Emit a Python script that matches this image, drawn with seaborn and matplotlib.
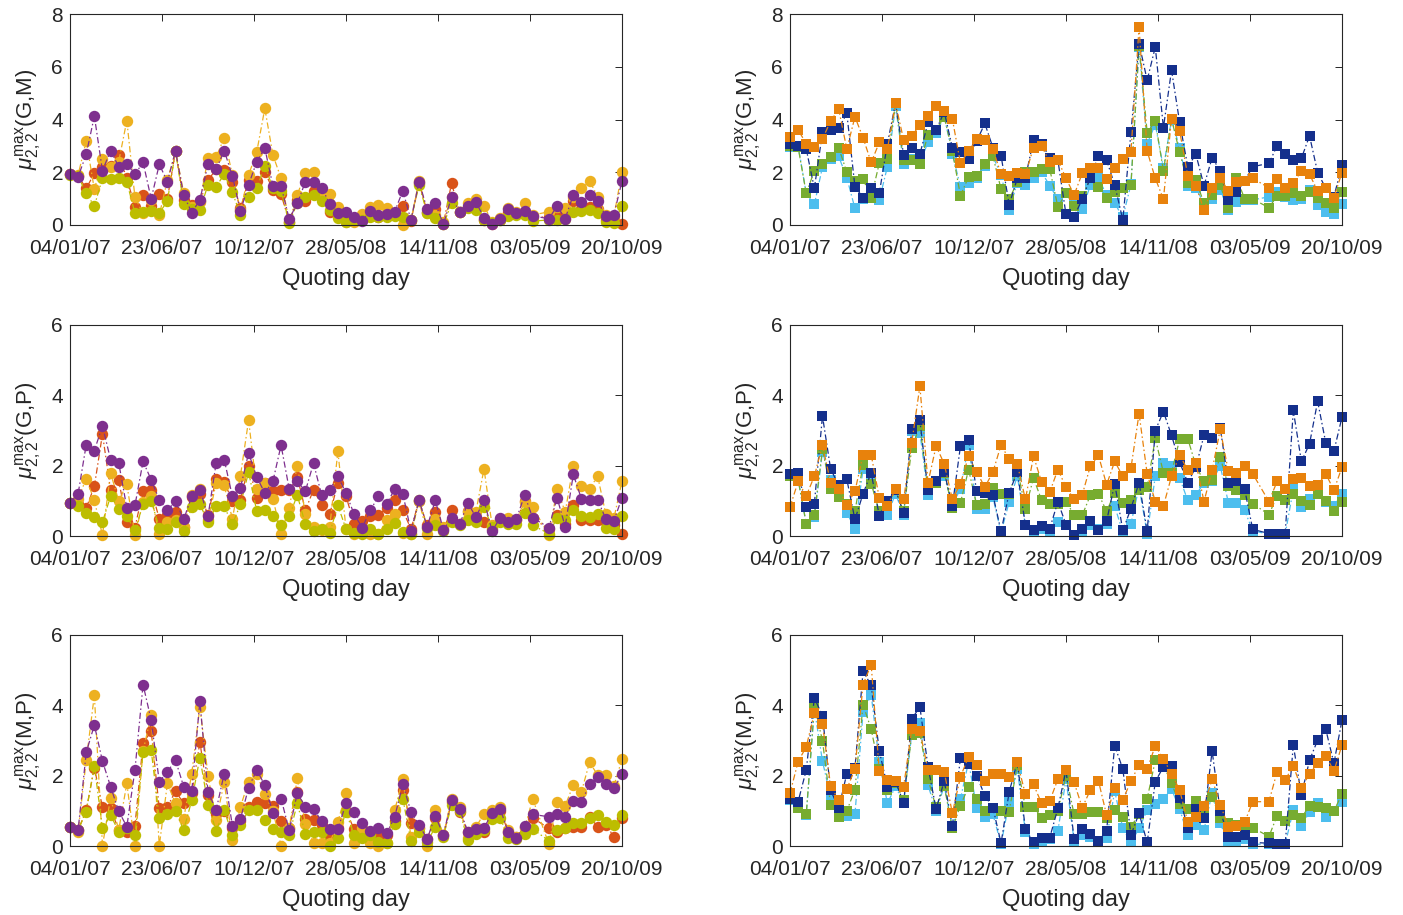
import numpy as np
import pandas as pd
import matplotlib
matplotlib.use("Agg")
import matplotlib.pyplot as plt
import matplotlib.dates as mdates
import seaborn as sns

# ---------------- data ----------------
dates = list(pd.date_range("2007-01-04", periods=58, freq="15D")) + \
        list(pd.date_range(end="2009-10-20", periods=10, freq="15D"))

tick_dates = ["2007-01-04", "2007-06-23", "2007-12-10", "2008-05-28",
              "2008-11-14", "2009-05-03", "2009-10-20"]

left_series = ["S1", "S2", "S3", "S4"]      # red, yellow, olive, purple
right_series = ["T1", "T2", "T3", "T4"]     # light blue, green, dark blue, orange

# Left column, (G,M)
gm_red = [1.93,1.85,1.39,1.96,2.20,2.24,2.65,1.77,0.70,1.14,
          0.72,1.16,1.00,2.80,0.95,0.76,0.90,1.70,2.11,2.09,
          1.64,0.63,1.70,1.68,2.02,1.33,1.16,0.13,0.95,0.91,
          1.30,1.14,0.51,0.40,0.30,0.20,0.30,0.50,0.30,0.40,
          0.45,0.73,0.15,1.60,0.50,0.60,0.05,1.58,0.50,0.70,
          0.80,0.20,0.05,0.20,0.50,0.45,0.50,0.30,0.30,0.50,
          0.30,0.90,0.60,0.70,0.60,0.20,0.20,0.04]
gm_yel = [1.93,1.90,3.19,1.35,2.49,2.20,2.40,3.96,1.05,0.44,
          0.95,0.38,1.70,2.80,1.23,0.70,0.88,2.53,2.57,3.31,
          1.90,0.55,1.90,2.76,4.42,2.65,1.77,0.10,1.15,1.97,
          2.02,1.20,1.16,0.68,0.10,0.13,0.42,0.69,0.76,0.63,
          0.38,0.00,0.19,1.68,0.44,0.38,0.13,1.07,0.50,0.85,
          1.00,0.72,0.13,0.25,0.63,0.50,0.85,0.38,0.50,0.69,
          0.63,1.07,1.41,1.68,1.07,0.38,0.32,2.02]
gm_grn = [1.90,1.85,1.20,0.72,1.77,1.74,1.77,1.64,0.44,0.50,
          0.54,0.45,0.91,2.80,0.80,0.60,0.57,1.52,1.45,1.93,
          1.24,0.38,1.07,1.39,2.24,1.40,1.30,0.09,0.82,1.07,
          1.14,0.90,0.57,0.25,0.13,0.20,0.20,0.30,0.30,0.30,
          0.35,0.30,0.19,1.52,0.44,0.25,0.02,0.82,0.50,0.63,
          0.57,0.19,0.06,0.19,0.34,0.38,0.38,0.15,0.19,0.19,
          0.21,0.51,0.54,0.57,0.44,0.13,0.09,0.72]
gm_pur = [1.93,1.83,2.68,4.13,2.06,2.82,2.21,2.31,1.92,2.38,
          0.99,2.30,1.64,2.81,1.14,0.47,0.95,2.31,2.11,2.82,
          1.86,0.53,1.52,2.40,2.91,1.48,1.48,0.23,0.82,1.64,
          1.64,1.42,0.80,0.44,0.48,0.32,0.16,0.54,0.38,0.40,
          0.51,1.30,0.19,1.64,0.59,0.82,0.03,1.05,0.51,0.72,
          0.87,0.28,0.04,0.24,0.59,0.47,0.54,0.34,0.24,0.72,
          0.24,1.14,0.88,1.13,0.91,0.34,0.38,1.67]

# Left column, (G,P)
gp_red = [0.94,0.90,0.80,1.41,2.90,1.30,1.58,0.40,0.24,1.28,
          1.32,0.49,0.60,0.68,0.27,1.10,1.20,0.60,1.63,1.53,
          1.00,1.03,2.00,1.09,1.50,1.28,1.30,1.30,1.68,0.73,
          1.32,0.87,0.62,1.50,1.13,0.35,0.43,0.56,0.59,0.80,
          1.03,0.73,0.20,1.00,0.30,0.68,0.20,0.73,0.35,0.70,
          0.50,0.40,0.20,0.45,0.40,0.45,1.00,0.50,0.20,0.60,
          0.35,0.87,0.45,0.45,0.45,0.40,0.30,0.05]
gp_yel = [0.94,1.06,1.63,1.01,0.02,1.79,1.00,1.47,0.02,0.97,
          1.13,0.05,0.40,0.45,0.27,1.18,1.34,0.45,1.50,1.44,
          0.49,1.72,3.29,1.34,1.50,1.06,0.07,0.80,2.00,0.62,
          0.26,0.18,0.26,2.41,0.21,0.05,0.14,0.05,0.05,0.45,
          0.62,0.09,0.05,1.00,0.05,0.49,0.26,0.45,0.35,0.68,
          0.68,1.91,0.30,0.49,0.52,0.45,0.97,0.82,0.02,1.34,
          0.68,2.00,1.41,1.34,1.70,0.63,0.50,1.56]
gp_grn = [0.94,0.85,0.65,0.54,0.40,1.13,0.78,0.56,0.16,0.90,
          1.00,0.24,0.21,0.40,0.14,0.82,0.90,0.40,0.84,0.84,
          0.33,0.90,1.82,0.71,0.73,0.56,0.30,0.56,1.16,0.33,
          0.14,0.20,0.09,0.87,0.20,0.09,0.07,0.20,0.05,0.21,
          0.37,0.10,0.05,1.03,0.24,0.30,0.15,0.40,0.30,0.45,
          0.40,0.82,0.25,0.40,0.35,0.33,0.65,0.30,0.07,0.52,
          0.45,0.75,0.56,0.54,0.63,0.24,0.21,0.56]
gp_pur = [0.94,1.20,2.60,2.43,3.13,2.17,2.08,0.80,0.87,2.12,
          1.60,1.03,0.73,0.99,0.47,1.13,1.32,0.56,2.07,2.17,
          1.13,1.37,2.36,1.68,1.22,1.56,2.58,1.34,1.55,1.28,
          2.07,1.16,1.32,1.70,1.22,0.62,0.24,0.73,1.13,0.90,
          1.34,1.20,0.14,1.01,0.27,1.01,0.18,0.52,0.33,0.94,
          0.54,1.01,0.14,0.52,0.40,0.49,1.16,0.52,0.24,1.09,
          0.27,1.75,1.06,1.01,1.03,0.49,0.43,1.09]

# Left column, (M,P)
mp_red = [0.55,0.45,1.02,2.23,1.10,1.07,0.45,0.41,0.58,2.92,
          3.27,1.07,1.12,1.56,1.21,1.50,2.95,1.45,0.90,1.00,
          0.52,0.70,1.10,1.26,1.21,1.15,0.71,0.50,1.54,0.77,
          0.74,0.60,0.24,0.50,1.00,0.48,0.41,0.40,0.27,0.30,
          0.70,1.60,0.64,0.50,0.20,0.80,0.30,1.24,0.98,0.40,
          0.50,0.39,0.90,1.00,0.40,0.25,0.55,0.80,0.50,0.41,
          0.50,0.55,0.55,0.83,0.55,0.60,0.27,0.79]
mp_yel = [0.55,0.41,2.44,4.29,0.01,1.37,0.45,1.78,0.01,2.70,
          3.72,0.01,1.78,1.21,0.77,2.06,3.96,2.00,0.74,1.81,
          0.17,1.12,1.83,2.04,1.47,1.00,0.01,0.50,1.92,0.62,
          0.08,0.08,0.08,0.69,1.50,0.08,0.50,0.08,0.01,0.08,
          1.02,1.90,0.27,0.50,0.01,1.02,0.31,1.35,1.12,0.22,
          0.55,0.90,1.02,1.12,0.45,0.27,0.50,1.34,0.05,1.26,
          1.15,1.73,1.54,2.38,2.02,2.02,1.70,2.47]
mp_grn = [0.55,0.45,0.98,2.28,0.50,0.88,0.41,0.50,0.30,2.68,
          2.73,0.80,0.90,1.00,0.45,1.30,2.51,1.18,0.43,1.02,
          0.30,0.60,1.02,1.02,0.74,0.48,0.40,0.30,1.21,0.33,
          0.40,0.40,0.00,0.24,0.98,0.30,0.22,0.30,0.10,0.08,
          0.62,1.35,0.14,0.40,0.10,0.55,0.27,1.16,1.00,0.17,
          0.33,0.45,0.77,0.80,0.22,0.20,0.33,0.48,0.15,0.45,
          0.50,0.64,0.64,0.79,0.88,0.69,0.60,0.88]
mp_pur = [0.55,0.45,2.66,3.44,2.41,1.69,0.99,0.55,2.16,4.59,
          3.58,1.83,2.11,2.44,1.69,1.56,4.12,1.54,1.02,2.06,
          0.58,0.77,1.66,2.16,1.73,0.93,1.35,0.45,1.50,1.12,
          1.05,0.71,0.48,0.48,1.21,0.96,0.64,0.43,0.50,0.36,
          0.83,1.75,0.98,0.60,0.20,0.86,0.31,1.31,1.05,0.41,
          0.48,0.52,0.93,1.05,0.39,0.24,0.58,0.90,0.83,0.90,
          0.83,1.28,1.24,1.75,1.97,1.75,1.64,2.04]

# Right column, (G,M)
rgm_blu = [3.06,3.00,2.88,1.39,3.51,3.60,3.66,4.23,1.45,1.04,
           1.39,1.20,3.09,4.61,2.65,2.93,2.68,3.89,3.60,4.29,
           2.93,2.78,2.50,3.18,3.85,2.93,2.63,0.76,1.77,1.79,
           3.22,3.09,2.55,2.46,0.40,0.32,0.98,1.79,2.63,2.46,
           1.52,0.19,3.51,6.88,5.49,6.75,3.69,5.87,3.89,2.21,
           2.68,1.49,2.55,2.05,0.95,1.24,1.67,2.21,2.34,3.00,
           2.71,2.46,2.53,3.38,1.99,1.39,1.07,2.27]
rgm_org = [3.35,3.60,3.09,2.97,3.26,3.94,4.39,2.88,4.10,3.31,
           2.37,3.13,2.88,4.61,3.22,3.38,3.79,4.14,4.52,4.32,
           4.02,2.34,2.80,3.26,3.22,2.88,1.92,1.87,1.96,1.92,
           2.93,3.00,2.37,2.46,1.77,1.14,1.96,2.15,2.17,1.74,
           2.17,2.50,2.78,7.51,2.80,1.77,0.98,4.02,3.56,1.87,
           1.49,0.57,1.39,1.79,1.29,1.64,1.67,1.77,1.41,1.74,
           1.39,1.58,2.05,1.92,1.29,1.39,1.04,1.99]
rgm_grn = [3.00,2.95,1.20,2.05,2.30,2.59,2.93,2.00,1.67,1.74,
           1.04,2.34,2.50,4.61,2.46,2.46,2.30,3.43,3.60,4.10,
           2.80,1.11,1.83,1.87,2.30,2.60,1.36,0.98,1.62,2.02,
           2.00,2.12,2.12,0.69,1.20,0.73,1.10,1.77,1.45,1.04,
           1.26,1.41,1.50,6.80,3.50,3.94,2.05,4.02,2.75,1.60,
           1.70,0.82,1.14,1.50,0.63,1.79,1.00,0.98,0.66,1.10,
           1.10,1.20,1.10,1.26,1.04,0.82,0.66,1.26]
rgm_lbl = [2.95,3.00,1.20,0.78,2.20,2.50,2.60,1.79,0.63,1.00,
           1.10,0.95,2.21,4.50,2.30,2.50,2.37,3.13,3.47,4.10,
           2.70,1.45,1.60,1.77,2.25,2.60,1.90,0.57,1.60,1.50,
           1.77,2.00,1.49,0.98,0.40,0.80,0.61,1.50,1.77,1.14,
           0.82,0.30,1.54,6.75,3.09,3.81,2.17,4.00,2.93,1.49,
           1.40,0.82,1.00,1.33,0.57,0.86,0.95,0.95,1.07,1.26,
           1.07,0.95,0.98,1.33,0.76,0.50,0.40,0.78]

# Right column, (G,P)
rgp_blu = [1.77,1.80,0.82,0.92,3.41,1.91,1.44,1.61,0.47,1.20,
           1.80,0.57,1.00,1.30,0.66,3.03,3.29,1.30,1.55,1.82,
           0.85,2.56,2.72,1.27,1.23,1.17,0.13,1.23,1.82,0.32,
           0.16,0.28,0.21,0.98,0.32,0.04,0.19,0.42,0.16,0.42,
           1.49,0.16,0.78,1.52,0.13,3.00,3.54,2.86,2.10,1.52,
           1.96,2.86,2.78,3.07,1.52,1.55,1.34,0.19,0.07,0.07,
           0.07,3.57,2.12,2.62,3.83,2.65,2.41,3.38]
rgp_org = [0.82,1.55,1.14,1.70,2.59,1.52,1.33,0.89,1.27,2.31,
           2.31,1.08,0.85,1.33,1.04,2.65,4.26,1.52,2.56,2.05,
           1.04,1.49,2.27,1.82,1.39,1.82,2.59,2.18,2.05,1.04,
           2.27,1.53,1.25,1.89,1.39,1.04,1.17,1.99,2.29,1.46,
           2.12,1.70,1.93,3.48,1.77,0.98,0.85,1.70,2.31,1.87,
           2.08,0.98,1.87,3.03,1.84,1.80,1.99,1.77,0.98,1.55,
           1.34,1.61,1.65,1.42,1.44,1.77,1.30,1.96]
rgp_grn = [1.70,1.60,0.35,0.60,2.46,1.33,1.11,0.90,0.70,2.03,
           1.49,0.70,0.90,1.30,0.70,2.50,3.14,1.30,1.50,1.80,
           0.80,0.95,1.89,0.87,0.90,1.36,1.20,1.20,1.90,0.78,
           1.65,1.01,0.92,0.92,0.97,0.61,0.59,1.16,1.20,0.70,
           1.23,0.95,1.01,1.30,1.39,2.78,1.80,1.80,2.75,2.77,
           2.00,1.55,1.60,2.24,1.42,1.30,1.17,0.92,0.61,1.14,
           1.01,1.20,1.00,0.89,1.20,1.00,0.70,0.98]
rgp_lbl = [1.70,1.60,0.35,0.54,2.40,1.60,1.30,0.66,0.21,1.90,
           1.60,0.59,0.61,1.20,0.60,3.00,2.94,1.17,1.50,1.70,
           0.90,1.33,2.60,0.76,0.78,1.10,0.10,0.97,1.70,0.30,
           0.10,0.20,0.15,0.40,0.30,0.04,0.10,0.30,0.21,0.35,
           0.85,0.10,0.35,1.40,0.07,1.70,2.08,1.99,1.65,1.01,
           1.16,1.52,1.55,2.00,0.95,0.95,0.73,0.15,0.05,0.05,
           0.05,1.33,0.82,1.04,1.20,0.98,0.85,1.20]

# Right column, (M,P)
rmp_blu = [1.35,1.26,2.16,4.21,3.70,1.59,1.07,2.06,2.21,4.97,
           4.57,2.70,1.69,1.83,1.23,3.61,3.96,2.25,1.05,1.85,
           0.58,2.51,2.32,2.00,1.43,1.09,0.08,1.54,2.38,0.48,
           0.10,0.24,0.24,1.07,2.16,0.20,0.48,0.33,0.14,0.43,
           2.85,2.19,0.31,0.93,0.10,1.83,2.25,2.28,1.37,0.52,
           1.05,0.80,2.70,0.99,0.27,0.27,0.31,0.10,0.08,0.05,
           0.05,2.87,1.45,2.44,3.01,3.32,2.35,3.58]
rmp_org = [1.50,2.40,2.82,3.77,3.48,1.71,1.31,1.62,2.19,4.59,
           5.16,2.13,1.88,1.85,1.69,3.32,3.27,2.16,2.16,2.11,
           0.93,1.97,2.54,2.30,1.85,2.06,2.06,1.97,2.38,1.47,
           1.75,1.21,1.28,1.90,2.16,1.81,1.09,1.59,1.85,0.88,
           1.66,1.31,1.85,2.30,2.19,2.85,2.47,2.06,1.59,0.69,
           0.83,1.15,1.90,1.18,0.55,0.58,0.67,1.26,1.26,2.11,
           1.88,2.28,1.64,2.06,2.35,2.57,2.13,2.87]
rmp_grn = [1.35,1.07,0.90,3.96,3.00,1.16,0.83,1.00,1.60,4.02,
           3.32,2.20,1.59,1.80,1.30,3.17,3.20,1.90,1.10,1.70,
           0.50,1.15,1.69,1.34,1.00,1.09,1.00,0.98,2.30,1.10,
           1.12,0.80,0.88,1.00,2.00,0.90,0.90,0.96,0.96,0.80,
           1.02,0.83,0.55,0.90,1.34,2.44,2.30,1.78,1.20,1.05,
           1.28,1.00,1.40,0.80,0.64,0.60,0.50,0.52,0.27,0.86,
           0.71,0.88,0.80,1.15,1.10,1.07,1.00,1.47]
rmp_lbl = [1.30,1.20,0.88,3.90,2.41,1.40,0.86,0.86,0.90,3.80,
           4.30,2.40,1.21,1.70,1.21,3.20,3.51,1.73,1.00,1.70,
           0.55,1.34,2.40,1.09,0.83,0.90,0.05,1.26,2.20,0.40,
           0.05,0.15,0.20,0.43,1.90,0.15,0.30,0.25,0.10,0.22,
           1.56,0.50,0.10,0.50,1.02,1.20,1.34,1.62,1.05,0.31,
           0.60,0.45,1.52,0.64,0.10,0.15,0.20,0.05,0.05,0.05,
           0.05,1.02,0.58,0.96,1.21,0.83,1.00,1.26]

panel_labels = ["(G,M)", "(G,P)", "(M,P)"]
ymax = [8, 6, 6]

left_data = [[gm_red, gm_yel, gm_grn, gm_pur],
             [gp_red, gp_yel, gp_grn, gp_pur],
             [mp_red, mp_yel, mp_grn, mp_pur]]
right_data = [[rgm_lbl, rgm_grn, rgm_blu, rgm_org],
              [rgp_lbl, rgp_grn, rgp_blu, rgp_org],
              [rmp_lbl, rmp_grn, rmp_blu, rmp_org]]

left_colors = ["#D95319", "#EDB120", "#BDBD00", "#7E2F8E"]
right_colors = ["#4DBEEE", "#77AC30", "#142F8C", "#E8820C"]

# ---------------- style ----------------
sns.set_theme(style="white")
plt.rcParams["font.family"] = ["Liberation Sans", "DejaVu Sans"]
plt.rcParams["mathtext.fontset"] = "custom"
plt.rcParams["mathtext.rm"] = "Liberation Sans"
plt.rcParams["mathtext.it"] = "Liberation Sans:italic"
plt.rcParams["mathtext.bf"] = "Liberation Sans:bold"
axis_col = "#262626"

W, H = 1403, 915
fig = plt.figure(figsize=(W / 100, H / 100), dpi=100)

col_x = [70, 790]
ax_w = 552
row_y = [14, 325, 635]
ax_h = 211


def long_frame(series_vals, names):
    rows = []
    for name, vals in zip(names, series_vals):
        rows.append(pd.DataFrame({"date": dates, "value": vals, "series": name}))
    return pd.concat(rows, ignore_index=True)


for c in range(2):
    for r in range(3):
        ax = fig.add_axes([col_x[c] / W, 1 - (row_y[r] + ax_h) / H, ax_w / W, ax_h / H])
        if c == 0:
            names, cols, data, mk, ms = left_series, left_colors, left_data[r], "o", 8.2
        else:
            names, cols, data, mk, ms = right_series, right_colors, right_data[r], "s", 6.9
        df = long_frame(data, names)
        sns.lineplot(data=df, x="date", y="value", hue="series", style="series",
                     hue_order=names, style_order=names,
                     palette=dict(zip(names, cols)),
                     markers={n: mk for n in names},
                     dashes={n: (5, 2.2, 1.2, 2.2) for n in names},
                     markersize=ms, markeredgewidth=0, linewidth=0.9,
                     estimator=None, sort=False, legend=False, ax=ax, clip_on=False)
        ax.set_xlim(pd.Timestamp(tick_dates[0]), pd.Timestamp(tick_dates[-1]))
        ax.set_ylim(0, ymax[r])
        ax.set_yticks(np.arange(0, ymax[r] + 1, 2))
        ax.set_xticks(pd.to_datetime(tick_dates))
        ax.xaxis.set_major_formatter(mdates.DateFormatter("%d/%m/%y"))
        ax.tick_params(direction="in", length=5, width=0.7, top=True, right=True,
                       labelsize=15, colors=axis_col)
        ax.tick_params(axis="x", pad=10)
        ax.tick_params(axis="y", pad=5)
        for sp in ax.spines.values():
            sp.set_color(axis_col)
            sp.set_linewidth(0.8)
        ax.set_xlabel("Quoting day", fontsize=17, color=axis_col, labelpad=7)
        ax.set_ylabel(r"$\mu^{\mathrm{max}}_{2,2}$" + panel_labels[r], fontsize=16,
                      color=axis_col, labelpad=6)
        ax.grid(False)
        ax.set_facecolor("white")

fig.savefig("out.png", dpi=100, facecolor="white")
